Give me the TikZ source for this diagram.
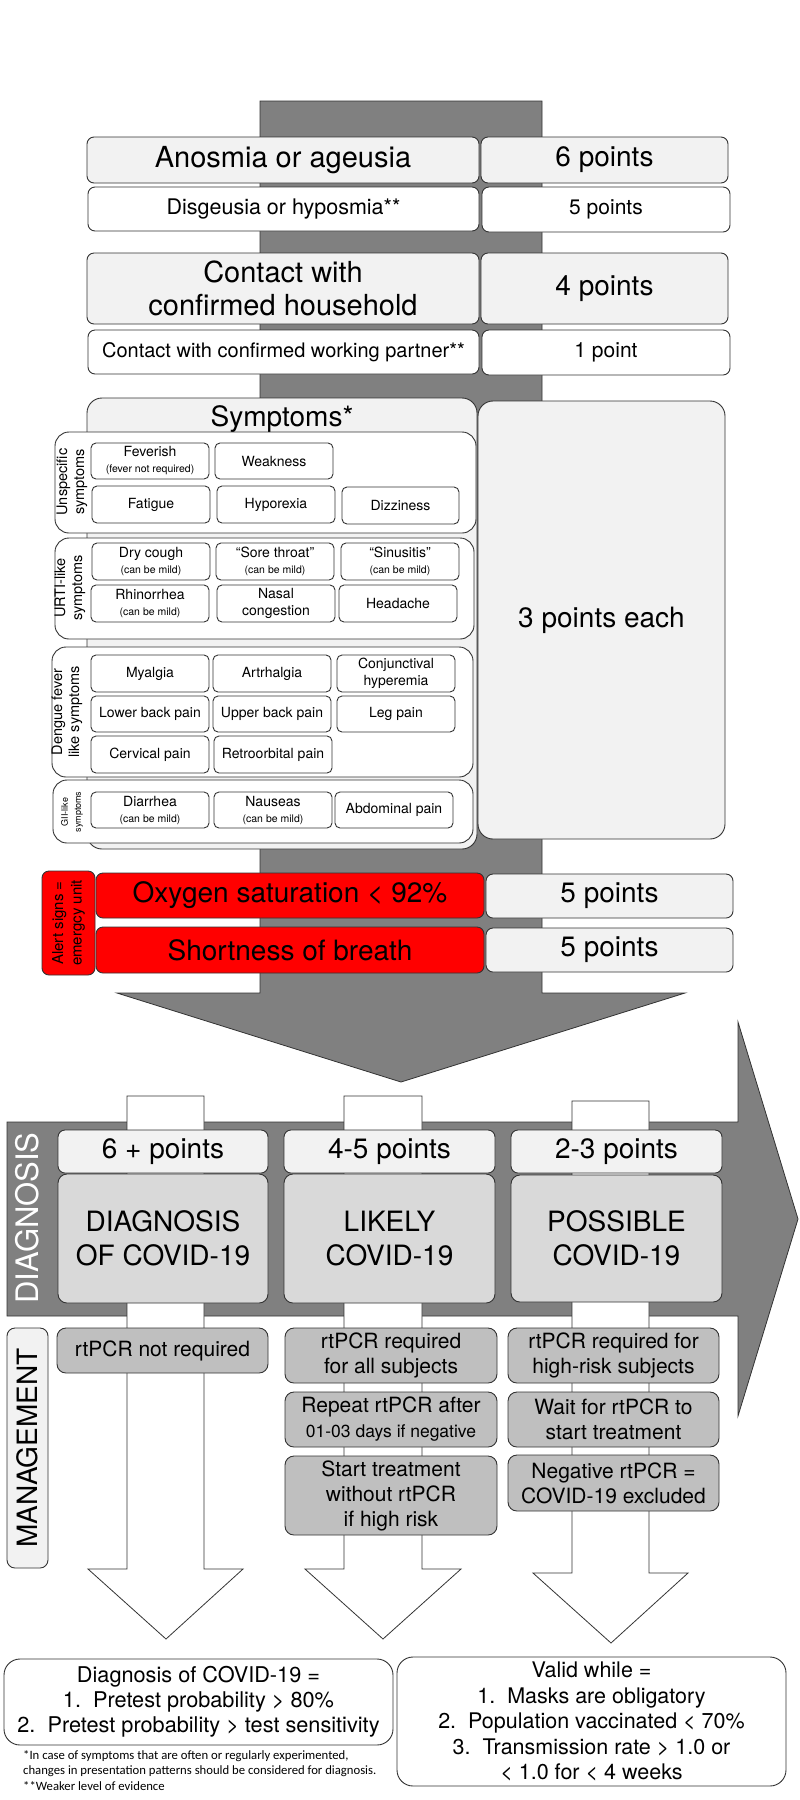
\documentclass[tikz,border=0pt]{standalone}
\usepackage{fontspec}
\setmainfont{TeX Gyre Heros}
\newfontfamily\notefont{Carlito}
\definecolor{bar}{HTML}{808080}
\definecolor{lt}{HTML}{F2F2F2}
\definecolor{mid}{HTML}{D9D9D9}
\definecolor{dk}{HTML}{BFBFBF}
\definecolor{edge}{HTML}{333333}
\definecolor{alert}{HTML}{FF0000}
\newcommand\fsz[2]{\fontsize{#1}{#2}\selectfont}
\newcommand\mybox[7]{\node[#6, minimum width=#4-#2, minimum height=#5-#3] (#1) at ({(#2+#4)/2},{(#3+#5)/2}) {#7};}
\newcommand\sm[1]{{\fsz{10.5}{12}#1}}
\tikzset{
  bx/.style={draw=edge, line width=0.9pt, rounded corners=7pt, inner sep=0pt, outer sep=0pt, align=center, text=black},
  topg/.style={bx, fill=lt, font=\fsz{29}{33}},
  topw/.style={bx, fill=white, font=\fsz{21}{25}},
  bigg/.style={bx, fill=lt, rounded corners=15pt, font=\fsz{28}{32}},
  grp/.style={bx, fill=white, rounded corners=14pt},
  item/.style={bx, fill=white, rounded corners=5pt, font=\fsz{14}{16}},
  grplab/.style={rotate=90, align=center, inner sep=0pt, font=\fsz{14.5}{17}},
  redbox/.style={bx, fill=alert, font=\fsz{28}{32}},
  ptsbox/.style={bx, fill=lt, font=\fsz{28}{32}},
  dhead/.style={bx, fill=lt, font=\fsz{28}{32}},
  dmain/.style={bx, fill=mid, rounded corners=9pt, font=\fsz{28}{34}},
  mgmt/.style={bx, fill=dk, rounded corners=9pt, font=\fsz{21}{25}},
  greyshape/.style={draw=edge, line width=0.8pt, fill=bar},
  pipe/.style={draw=edge, line width=0.8pt, fill=white},
  final/.style={bx, fill=white, rounded corners=16pt, font=\fsz{21.5}{25.5}},
}
\begin{document}
\begin{tikzpicture}[x=1pt,y=-1pt]
\useasboundingbox (0,0) rectangle (800,1800);
\fill[white] (0,0) rectangle (800,1800);

% vertical grey arrow
\draw[greyshape] (260,101) -- (542,101) -- (542,993) -- (685,993) -- (401,1082) -- (117,993) -- (260,993) -- cycle;

% top criteria
\mybox{anos}{87}{137}{479}{183}{topg}{Anosmia or ageusia}
\mybox{p6}{481}{137}{728}{183}{topg, font=\fsz{28}{32}}{6 points}
\mybox{dis}{88}{187}{479}{231}{topw, font=\fsz{21.5}{25}}{Disgeusia or hyposmia**}
\mybox{p5}{482}{187}{730}{232}{topw}{5 points}
\mybox{cont}{87}{253}{479}{324}{topg}{Contact with\\confirmed household}
\mybox{p4}{481}{253}{728}{324}{topg, font=\fsz{28}{32}}{4 points}
\mybox{work}{88}{330}{479}{374}{topw, font=\fsz{20}{24}}{Contact with confirmed working partner**}
\mybox{p1}{482}{330}{730}{375}{topw}{1 point}

% symptoms
\mybox{symp}{87}{398}{477}{849}{bigg}{}
\node[font=\fsz{28}{32}, inner sep=0pt] (symt) at (282,419) {Symptoms*};
\mybox{p3}{478}{401}{725}{839}{bigg}{3 points each}

\mybox{gU}{55}{432}{476}{533}{grp}{}
\mybox{gR}{55}{538}{474}{639}{grp}{}
\mybox{gD}{52}{647}{473}{777}{grp}{}
\mybox{gG}{53}{780}{473}{843}{grp}{}

\node[grplab] (lU) at (72,482) {Unspecific\\symptoms};
\node[grplab] (lR) at (70,588) {URTI-like\\symptoms};
\node[grplab] (lD) at (67,712) {Dengue fever\\like symptoms};
\node[grplab, font=\fsz{9}{13}] (lG) at (72,812) {GII-like\\symptoms};

\mybox{fev}{91}{443}{209}{479}{item}{Feverish\\\sm{(fever not required)}}
\mybox{weak}{215}{443}{333}{479}{item}{Weakness}
\mybox{fat}{92}{486}{210}{523}{item}{Fatigue}
\mybox{hypo}{217}{486}{335}{523}{item}{Hyporexia}
\mybox{dizz}{342}{487}{459}{524}{item}{Dizziness}

\mybox{dry}{92}{543}{210}{580}{item}{Dry cough\\\sm{(can be mild)}}
\mybox{sore}{216}{543}{334}{580}{item}{“Sore throat”\\\sm{(can be mild)}}
\mybox{sinu}{341}{543}{459}{580}{item}{“Sinusitis”\\\sm{(can be mild)}}
\mybox{rhin}{91}{585}{209}{622}{item}{Rhinorrhea\\\sm{(can be mild)}}
\mybox{nasal}{217}{585}{335}{622}{item, font=\fsz{14}{17}}{Nasal\\congestion}
\mybox{head}{339}{585}{457}{622}{item}{Headache}

\mybox{mya}{91}{655}{209}{692}{item}{Myalgia}
\mybox{art}{213}{655}{331}{692}{item}{Artrhalgia}
\mybox{conj}{337}{655}{455}{692}{item, font=\fsz{14}{17}}{Conjunctival\\hyperemia}
\mybox{lbp}{91}{696}{209}{732}{item}{Lower back pain}
\mybox{ubp}{213}{696}{331}{732}{item}{Upper back pain}
\mybox{leg}{337}{696}{455}{732}{item}{Leg pain}
\mybox{cerv}{91}{736}{209}{773}{item}{Cervical pain}
\mybox{retro}{214}{736}{332}{773}{item}{Retroorbital pain}

\mybox{diar}{91}{792}{209}{828}{item}{Diarrhea\\\sm{(can be mild)}}
\mybox{naus}{214}{792}{332}{828}{item}{Nauseas\\\sm{(can be mild)}}
\mybox{abd}{335}{792}{453}{828}{item}{Abdominal pain}

% alert signs
\mybox{alab}{42}{871}{95}{975}{bx, fill=alert}{}
\node[rotate=90, align=center, inner sep=0pt, font=\fsz{15}{18.5}] (alabt) at (alab.center) {Alert signs =\\emergcy unit};
\mybox{oxy}{96}{873}{484}{918}{redbox}{Oxygen saturation < 92\%}
\mybox{sob}{96}{927}{484}{973}{redbox}{Shortness of breath}
\mybox{p5a}{486}{874}{733}{918}{ptsbox}{5 points}
\mybox{p5b}{486}{928}{733}{972}{ptsbox}{5 points}

% horizontal arrow
\draw[greyshape] (7,1122) -- (738,1122) -- (738,1022) -- (798,1219) -- (738,1416) -- (738,1316) -- (7,1316) -- cycle;

% white pipes / down arrows
\draw[pipe] (127,1096) -- (204,1096) -- (204,1569) -- (243,1569) -- (166,1639) -- (88,1569) -- (127,1569) -- cycle;
\draw[pipe] (344,1096) -- (422,1096) -- (422,1569) -- (461,1569) -- (383,1639) -- (305,1569) -- (344,1569) -- cycle;
\draw[pipe] (572,1101) -- (649,1101) -- (649,1573) -- (688,1573) -- (611,1643) -- (533,1573) -- (572,1573) -- cycle;

% diagnosis
\node[rotate=90, text=white, inner sep=0pt, font=\fsz{31}{35}] (diagl) at (27,1218) {DIAGNOSIS};
\mybox{d1h}{58}{1130}{268}{1173}{dhead}{6 + points}
\mybox{d1}{58}{1174}{268}{1303}{dmain}{DIAGNOSIS\\OF COVID-19}
\mybox{d2h}{284}{1130}{495}{1173}{dhead}{4-5 points}
\mybox{d2}{284}{1174}{495}{1303}{dmain}{LIKELY\\COVID-19}
\mybox{d3h}{511}{1130}{722}{1173}{dhead}{2-3 points}
\mybox{d3}{511}{1175}{722}{1302}{dmain}{POSSIBLE\\COVID-19}

% management
\mybox{mlab}{7}{1328}{48}{1568}{bx, fill=lt, rounded corners=8pt}{}
\node[rotate=90, inner sep=0pt, font=\fsz{28}{32}] (mlabt) at (mlab.center) {MANAGEMENT};
\mybox{m1}{57}{1328}{268}{1373}{mgmt}{rtPCR not required}
\mybox{m2a}{285}{1328}{497}{1383}{mgmt}{rtPCR required\\for all subjects}
\mybox{m2b}{285}{1392}{497}{1447}{mgmt}{Repeat rtPCR after\\{\fsz{17.5}{20}01-03 days if negative}}
\mybox{m2c}{285}{1456}{497}{1535}{mgmt}{Start treatment\\without rtPCR\\if high risk}
\mybox{m3a}{508}{1328}{719}{1383}{mgmt}{rtPCR required for\\high-risk subjects}
\mybox{m3b}{508}{1392}{719}{1447}{mgmt}{Wait for rtPCR to\\start treatment}
\mybox{m3c}{508}{1455}{719}{1511}{mgmt}{Negative rtPCR =\\COVID-19 excluded}

% final boxes
\mybox{fl}{4}{1659}{393}{1745}{final, font=\fsz{21.7}{25}}{Diagnosis of COVID-19 =\\1.~~Pretest probability > 80\%\\2.~~Pretest probability > test sensitivity}
\mybox{fr}{397}{1657}{786}{1786}{final}{Valid while =\\1.~~Masks are obligatory\\2.~~Population vaccinated < 70\%\\3.~~Transmission rate > 1.0 or\\< 1.0 for < 4 weeks}

\node[anchor=north west, align=left, inner sep=0pt, font=\notefont\fsz{12.7}{15.5}] (notes) at (23,1750) {*In case of symptoms that are often or regularly experimented,\\changes in presentation patterns should be considered for diagnosis.\\**Weaker level of evidence};
\end{tikzpicture}
\end{document}
